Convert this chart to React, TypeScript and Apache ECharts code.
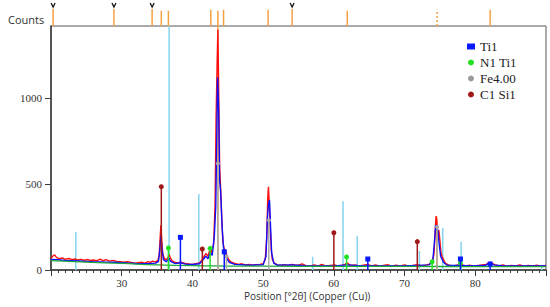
import React, { useEffect, useRef } from "react";
import * as echarts from "echarts";

// Measured pattern (°2θ, counts)
const measured: [number, number][] = [
  [20.0, 68], [20.3, 82], [20.5, 88], [20.8, 72], [21.2, 66], [21.6, 70], [22.0, 62], [22.5, 67], [23.0, 60],
  [23.4, 64], [23.8, 58], [24.2, 62], [24.7, 57], [25.2, 61], [25.6, 55], [26.0, 58], [26.5, 54], [27.0, 63],
  [27.3, 54], [27.8, 60], [28.3, 52], [28.8, 56], [29.3, 50], [29.8, 48], [30.3, 45], [30.8, 48], [31.3, 44],
  [31.8, 40], [32.3, 43], [32.8, 45], [33.3, 40], [33.7, 49], [34.0, 44], [34.4, 52], [34.8, 46], [35.1, 56],
  [35.3, 85], [35.45, 200], [35.55, 262], [35.65, 180], [35.8, 95], [36.0, 70], [36.2, 60], [36.5, 66],
  [36.7, 92], [36.85, 74], [37.1, 55], [37.5, 45], [38.0, 40], [38.3, 48], [38.6, 42], [39.0, 38], [39.5, 35],
  [40.0, 33], [40.5, 37], [41.0, 41], [41.3, 56], [41.6, 76], [41.9, 96], [42.2, 80], [42.5, 122], [42.7, 100],
  [43.0, 150], [43.2, 380], [43.35, 900], [43.5, 1220], [43.6, 1400], [43.7, 1100], [43.85, 600], [44.0, 465],
  [44.15, 300], [44.3, 165], [44.5, 122], [44.7, 112], [44.9, 80], [45.2, 56], [45.5, 46], [46.0, 38],
  [46.5, 33], [47.0, 36], [47.5, 30], [48.0, 33], [48.5, 28], [49.0, 31], [49.5, 33], [50.0, 36], [50.3, 62],
  [50.5, 180], [50.65, 420], [50.75, 484], [50.85, 400], [51.0, 250], [51.15, 120], [51.3, 60], [51.6, 40],
  [52.0, 30], [52.5, 28], [53.0, 31], [53.5, 27], [54.0, 33], [54.5, 30], [55.0, 28], [55.5, 36], [56.0, 27],
  [56.6, 22], [57.2, 30], [57.8, 24], [58.3, 32], [58.9, 23], [59.5, 27], [60.1, 30], [60.6, 24], [61.2, 28],
  [61.6, 33], [61.85, 42], [62.1, 34], [62.5, 26], [63.0, 30], [63.6, 23], [64.2, 28], [64.8, 32], [65.3, 24],
  [65.9, 29], [66.5, 22], [67.0, 27], [67.6, 31], [68.2, 23], [68.8, 28], [69.4, 24], [70.0, 30], [70.6, 22],
  [71.2, 27], [71.8, 31], [72.4, 24], [73.0, 28], [73.5, 34], [73.9, 45], [74.15, 90], [74.3, 200],
  [74.45, 314], [74.55, 290], [74.7, 200], [74.85, 233], [75.0, 170], [75.15, 100], [75.3, 80], [75.5, 60],
  [75.8, 38], [76.2, 30], [76.8, 24], [77.4, 28], [78.0, 32], [78.6, 24], [79.2, 28], [79.8, 22], [80.4, 27],
  [81.0, 30], [81.5, 32], [81.9, 40], [82.15, 46], [82.4, 38], [82.8, 30], [83.3, 24], [83.9, 29], [84.5, 22],
  [85.1, 27], [85.7, 24], [86.3, 29], [86.9, 22], [87.5, 26], [88.1, 23], [88.7, 28], [89.3, 22], [90.0, 26],
];

// Calculated profile
const calculated: [number, number][] = [
  [20, 62], [21, 60], [22, 56], [23, 54], [24, 52], [25, 50], [26, 48], [27, 47], [28, 46], [29, 45], [30, 42],
  [31, 40], [32, 38], [33, 37], [34, 38], [34.8, 40], [35.2, 50], [35.4, 120], [35.55, 200], [35.7, 120],
  [35.9, 60], [36.3, 48], [36.7, 70], [36.9, 50], [37.5, 38], [38.3, 42], [39, 34], [40, 32], [41, 36],
  [41.5, 60], [41.9, 80], [42.2, 65], [42.5, 100], [42.8, 85], [43.1, 200], [43.3, 368], [43.45, 800],
  [43.55, 1120], [43.7, 950], [43.85, 520], [44.0, 450], [44.2, 250], [44.4, 130], [44.55, 110], [44.8, 70],
  [45.2, 45], [46, 33], [48, 28], [50, 30], [50.4, 80], [50.6, 300], [50.75, 380], [50.9, 407], [51.05, 250],
  [51.2, 100], [51.5, 40], [52, 28], [54, 30], [56, 25], [60, 24], [62, 30], [64, 24], [70, 24], [73.5, 30],
  [74, 60], [74.2, 150], [74.4, 262], [74.55, 240], [74.7, 230], [74.9, 150], [75.1, 80], [75.5, 45], [76, 28],
  [80, 24], [81.5, 28], [82.1, 42], [82.6, 30], [84, 24], [90, 23],
];

const background: [number, number][] = [
  [20, 55], [25, 46], [30, 38], [35, 30], [40, 25], [45, 23], [50, 22], [60, 21], [70, 21], [80, 20], [90, 20],
];

// Reference sticks (°2θ, counts)
const ti1: [number, number][] = [[38.3, 190], [44.5, 106], [64.8, 64], [77.9, 64], [82.1, 35]];
const n1ti1: [number, number][] = [[36.6, 128], [42.5, 126], [61.8, 76], [73.9, 48], [77.9, 40]];
const fe400: [number, number][] = [[43.6, 620], [44.8, 80], [50.8, 290], [74.6, 250]];
const c1si1: [number, number][] = [[35.6, 485], [41.4, 122], [60.0, 217], [71.8, 165]];
const otherPhase: [number, number][] = [
  [23.5, 221], [36.7, 1420], [40.9, 442], [57.0, 77], [61.3, 400], [63.3, 200], [72.1, 110], [75.4, 245],
  [78.0, 165], [89.4, 30],
];
const orangeInPlot: [number, number][] = [[43.6, 1420], [74.55, 310]];

// Top strip markers (°2θ, relative height, flag)
const topSticks: [number, number, number][] = [
  [20.3, 1, 1], [28.9, 1, 1], [34.3, 1, 1], [35.6, 0.9, 0], [36.6, 0.9, 0], [42.6, 0.95, 0], [43.6, 0.9, 0],
  [44.4, 0.95, 0], [50.7, 0.95, 0], [54.1, 1, 1], [61.9, 0.9, 0], [74.6, 0.95, 2], [82.1, 0.95, 0],
];

const xTickLabels = [30, 40, 50, 60, 70, 80];
const yTickLabels = [0, 500, 1000];

function stickRender(color: string, symbol: string, size: number, width: number) {
  return (params: any, api: any) => {
    const x = api.value(0);
    const h = api.value(1);
    const p0 = api.coord([x, 0]);
    const p1 = api.coord([x, h]);
    const children: any[] = [
      { type: "line", shape: { x1: p0[0], y1: p0[1], x2: p1[0], y2: p1[1] }, style: { stroke: color, lineWidth: width } },
    ];
    if (symbol === "rect") {
      children.push({ type: "rect", shape: { x: p1[0] - size / 2, y: p1[1] - size / 2, width: size, height: size }, style: { fill: color } });
    } else if (symbol === "circle") {
      children.push({ type: "circle", shape: { cx: p1[0], cy: p1[1], r: size / 2 }, style: { fill: color } });
    }
    return { type: "group", children };
  };
}

export default function App() {
  const ref = useRef<HTMLDivElement>(null);
  useEffect(() => {
    const chart = echarts.init(ref.current!, null, { renderer: "svg" });
    const serif = "Times New Roman";
    const sans = "Open Sans";
    const axisColor = "#3a3a3a";
    chart.setOption({
      animation: false,
      backgroundColor: "#ffffff",
      textStyle: { fontFamily: serif },
      grid: [
        { left: 51, right: 4, top: 26, bottom: 37, show: true, borderColor: "#555", borderWidth: 1 },
        { left: 51, right: 4, top: 9, height: 17 },
      ],
      legend: {
        orient: "vertical",
        left: 462,
        top: 35,
        itemGap: 3,
        itemWidth: 8,
        itemHeight: 6,
        textStyle: { fontFamily: serif, fontSize: 13, color: "#222" },
        data: [
          { name: "Ti1", icon: "rect" },
          { name: "N1 Ti1", icon: "circle" },
          { name: "Fe4.00", icon: "circle" },
          { name: "C1 Si1", icon: "circle" },
        ],
      },
      xAxis: [
        {
          type: "value",
          gridIndex: 0,
          min: 20,
          max: 90,
          interval: 10,
          axisLine: { show: true, onZero: false, lineStyle: { color: axisColor, width: 1.5 } },
          axisTick: { show: true, inside: false, length: 6, lineStyle: { color: axisColor } },
          minorTick: { show: true, splitNumber: 10, length: 3, lineStyle: { color: axisColor } },
          splitLine: { show: false },
          axisLabel: {
            fontFamily: serif,
            fontSize: 11,
            color: "#333",
            margin: 7,
            formatter: (v: number) => (xTickLabels.indexOf(v) >= 0 ? String(v) : ""),
          },
        },
        { type: "value", gridIndex: 1, min: 20, max: 90, show: false },
      ],
      yAxis: [
        {
          type: "value",
          gridIndex: 0,
          min: 0,
          max: 1420,
          interval: 500,
          axisLine: { show: true, lineStyle: { color: axisColor, width: 1.5 } },
          axisTick: { show: true, length: 6, lineStyle: { color: axisColor } },
          splitLine: { show: false },
          axisLabel: {
            fontFamily: serif,
            fontSize: 11,
            color: "#333",
            margin: 9,
            showMaxLabel: false,
            formatter: (v: number) => (yTickLabels.indexOf(v) >= 0 ? String(v) : ""),
          },
        },
        { type: "value", gridIndex: 1, min: 0, max: 1, show: false },
      ],
      graphic: [
        { type: "text", left: 8, top: 14, style: { text: "Counts", fontFamily: sans, fontSize: 11, fill: "#333" } },
        {
          type: "text",
          left: 244,
          top: 291,
          style: { text: "Position [°2θ] (Copper (Cu))", fontFamily: sans, fontSize: 10, fill: "#333" },
        },
      ],
      series: [
        {
          type: "custom",
          name: "top",
          xAxisIndex: 1,
          yAxisIndex: 1,
          clip: false,
          silent: true,
          encode: { x: 0, y: 1 },
          data: topSticks,
          renderItem: (params: any, api: any) => {
            const x = api.value(0);
            const h = api.value(1);
            const flag = api.value(2);
            const p0 = api.coord([x, 0]);
            const p1 = api.coord([x, h]);
            const children: any[] = [
              {
                type: "line",
                shape: { x1: p0[0], y1: p0[1], x2: p1[0], y2: p1[1] },
                style: { stroke: "#f5a040", lineWidth: 1.5, lineDash: flag === 2 ? [2, 2] : null },
              },
            ];
            if (flag === 1) {
              children.push({
                type: "polyline",
                shape: { points: [[p1[0] - 2, p1[1] - 6], [p1[0], p1[1] - 2], [p1[0] + 2, p1[1] - 6]] },
                style: { stroke: "#111", lineWidth: 1.3, fill: "none" },
              });
            }
            return { type: "group", children };
          },
        },
        {
          type: "custom",
          name: "orange",
          silent: true,
          encode: { x: 0, y: 1 },
          data: orangeInPlot,
          renderItem: stickRender("#f8a848", "none", 0, 1.5),
        },
        {
          type: "custom",
          name: "Other",
          silent: true,
          encode: { x: 0, y: 1 },
          data: otherPhase,
          renderItem: stickRender("#86d4ee", "none", 0, 1.5),
        },
        {
          type: "line",
          name: "measured",
          data: measured,
          showSymbol: false,
          lineStyle: { color: "#ff1010", width: 1.4 },
          z: 3,
        },
        {
          type: "line",
          name: "calc",
          data: calculated,
          showSymbol: false,
          lineStyle: { color: "#1010ff", width: 1.4 },
          z: 3,
        },
        {
          type: "line",
          name: "bg",
          data: background,
          showSymbol: false,
          smooth: true,
          lineStyle: { color: "#1fa83a", width: 1.3 },
          z: 3,
        },
        {
          type: "custom",
          name: "Fe4.00",
          itemStyle: { color: "#9a9a9a" },
          encode: { x: 0, y: 1 },
          data: fe400,
          renderItem: stickRender("#a8a8a8", "circle", 4, 1.5),
          z: 4,
        },
        {
          type: "custom",
          name: "N1 Ti1",
          itemStyle: { color: "#22e022" },
          encode: { x: 0, y: 1 },
          data: n1ti1,
          renderItem: stickRender("#22e022", "circle", 5, 1.5),
          z: 4,
        },
        {
          type: "custom",
          name: "Ti1",
          itemStyle: { color: "#0a1aff" },
          encode: { x: 0, y: 1 },
          data: ti1,
          renderItem: stickRender("#0a1aff", "rect", 5, 1.5),
          z: 4,
        },
        {
          type: "custom",
          name: "C1 Si1",
          itemStyle: { color: "#a01818" },
          encode: { x: 0, y: 1 },
          data: c1si1,
          renderItem: stickRender("#a01818", "circle", 5, 1.5),
          z: 4,
        },
      ],
    });
    return () => chart.dispose();
  }, []);
  return <div ref={ref} style={{ position: "absolute", left: 0, top: 0, width: 550, height: 307 }} />;
}
